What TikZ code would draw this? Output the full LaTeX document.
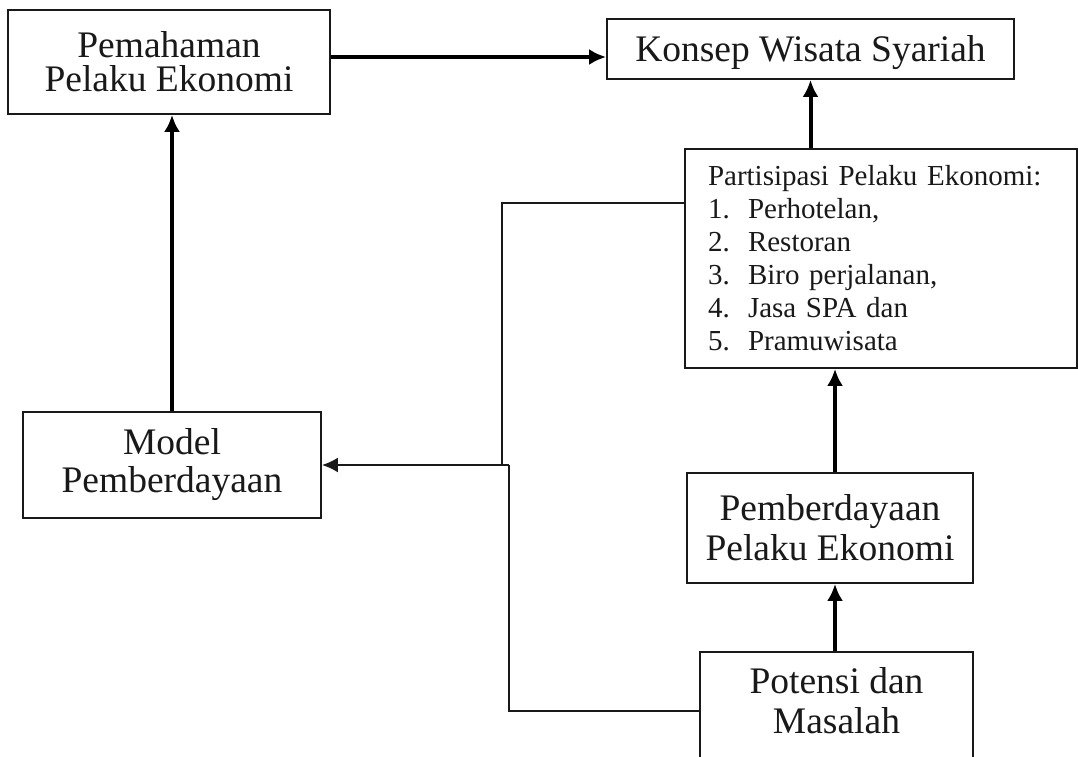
\documentclass[tikz,border=0pt]{standalone}
\usepackage{fontspec}
\setmainfont{Liberation Serif}
\usetikzlibrary{arrows.meta,calc}
\begin{document}
\begin{tikzpicture}[x=1pt,y=-1pt,
  box/.style={draw=black!90,line width=1.8pt,fill=white,inner sep=0pt,align=center,text=black!90,font=\fontsize{37.5}{40}\selectfont},
  bigarrow/.style={line width=4pt,-{Latex[length=17pt,width=16pt]}},
  conn/.style={line width=2.2pt,line join=miter,draw=black!90},
  connarr/.style={conn,-{Latex[length=16pt,width=15pt]}}]
\clip (0,0) rectangle (1078,756);
\fill[white] (0,0) rectangle (1078,756);
% boxes
\node[box,minimum width=322pt,minimum height=104pt,font=\fontsize{37.5}{34}\selectfont] (pem) at (169,62) {Pemahaman\\Pelaku Ekonomi};
\node[box,minimum width=407pt,minimum height=60pt,text height=25pt,text depth=0pt] (kon) at (810.5,49) {Konsep Wisata Syariah};
\node[box,minimum width=392pt,minimum height=219pt,text width=346pt,inner xsep=23pt,align=left,font=\fontsize{29}{33}\selectfont] (par) at (881,258.5)
 {Partisipasi Pelaku Ekonomi:\\
  \makebox[40pt][l]{1.}Perhotelan,\\
  \makebox[40pt][l]{2.}Restoran\\
  \makebox[40pt][l]{3.}Biro perjalanan,\\
  \makebox[40pt][l]{4.}Jasa SPA dan\\
  \makebox[40pt][l]{5.}Pramuwisata};
\node[box,minimum width=298pt,minimum height=106pt,font=\fontsize{37.5}{38}\selectfont] (mod) at (172,465) {Model\\Pemberdayaan};
\node[box,minimum width=286pt,minimum height=110pt] (emp) at (830,528) {Pemberdayaan\\Pelaku Ekonomi};
\node[box,minimum width=273pt,minimum height=120pt] (pot) at (836.5,712) {};
\node[align=center,inner sep=0pt,text=black!90,font=\fontsize{37.5}{40}\selectfont] (pottxt) at (836.5,700.5) {Potensi dan\\Masalah};
% thick arrows
\draw[bigarrow] ([yshift=5pt]pem.east) -- ([yshift=5pt]pem.east -| kon.west);
\draw[bigarrow] (mod.north) -- (mod.north |- pem.south);
\draw[bigarrow] (kon.south |- par.north) -- (kon.south);
\coordinate (vx) at (835,0);
\draw[bigarrow] (vx |- emp.north) -- (vx |- par.south);
\draw[bigarrow] (vx |- pot.north) -- (vx |- emp.south);
% feedback connectors
\coordinate (a1) at (502,203);
\coordinate (a2) at (509,711);
\draw[conn] (a1 -| par.west) -- (a1) -- (a1 |- mod.east);
\draw[conn] (a2 -| pot.west) -- (a2) -- (a2 |- mod.east);
\draw[connarr] (a2 |- mod.east) -- (mod.east);
\end{tikzpicture}
\end{document}
